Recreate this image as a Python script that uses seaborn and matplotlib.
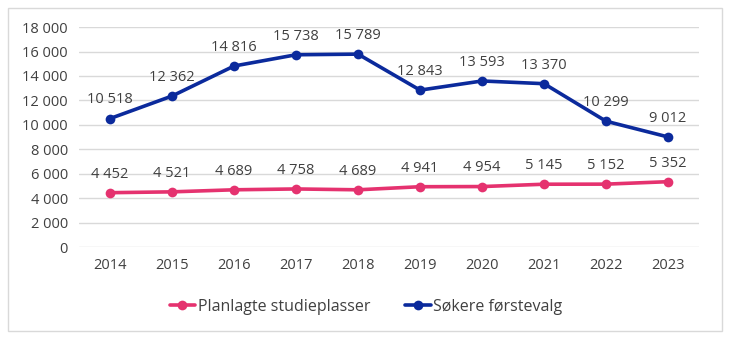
import numpy as np
import pandas as pd
import matplotlib.pyplot as plt
import seaborn as sns
from matplotlib.patches import Rectangle

years = [2014, 2015, 2016, 2017, 2018, 2019, 2020, 2021, 2022, 2023]
planlagte = [4452, 4521, 4689, 4758, 4689, 4941, 4954, 5145, 5152, 5352]
sokere = [10518, 12362, 14816, 15738, 15789, 12843, 13593, 13370, 10299, 9012]
series_names = ['Planlagte studieplasser', 'Søkere førstevalg']
colors = ['#E5326F', '#0B2A9C']

df = pd.DataFrame({
    'år': years * 2,
    'verdi': planlagte + sokere,
    'serie': [series_names[0]] * len(years) + [series_names[1]] * len(years),
})

sns.set_style('white')
plt.rcParams['font.family'] = ['Open Sans', 'DejaVu Sans']

fig = plt.figure(figsize=(7.32, 3.52), dpi=100)
ax = fig.add_axes([0.108, 0.298, 0.847, 0.625])

sns.lineplot(data=df, x='år', y='verdi', hue='serie', palette=colors,
             marker='o', markersize=7, markeredgewidth=0, linewidth=2.6, ax=ax)

def fmt(v):
    return f'{v:,}'.replace(',', ' ')

for vals in (planlagte, sokere):
    for x, v in zip(years, vals):
        ax.annotate(fmt(v), (x, v), xytext=(0, 8), textcoords='offset points',
                    ha='center', va='bottom', fontsize=10.5, color='#404040')

ax.set_xlim(2013.5, 2023.5)
ax.set_ylim(0, 18000)
ax.set_yticks(range(0, 18001, 2000))
ax.set_yticklabels([fmt(v) for v in range(0, 18001, 2000)])
ax.set_xticks(years)
ax.tick_params(axis='both', length=0, labelsize=10.5, colors='#404040', pad=8)
ax.grid(axis='y', color='#d9d9d9', linewidth=1)
ax.set_xlabel('')
ax.set_ylabel('')
for s in ax.spines.values():
    s.set_visible(False)

ax.legend(loc='center', ncol=2, frameon=False, fontsize=11.5, handlelength=1.6,
          handletextpad=0.15, columnspacing=2.2, labelcolor='#404040')
leg = ax.get_legend()
leg.set_bbox_to_anchor((0.5, 0.128), transform=fig.transFigure)

fig.patches.append(Rectangle((8 / 732, 1 - 331 / 352), 714 / 732, 323 / 352,
                             transform=fig.transFigure, fill=False,
                             edgecolor='#d9d9d9', linewidth=1))

fig.savefig('out.png', dpi=100)
